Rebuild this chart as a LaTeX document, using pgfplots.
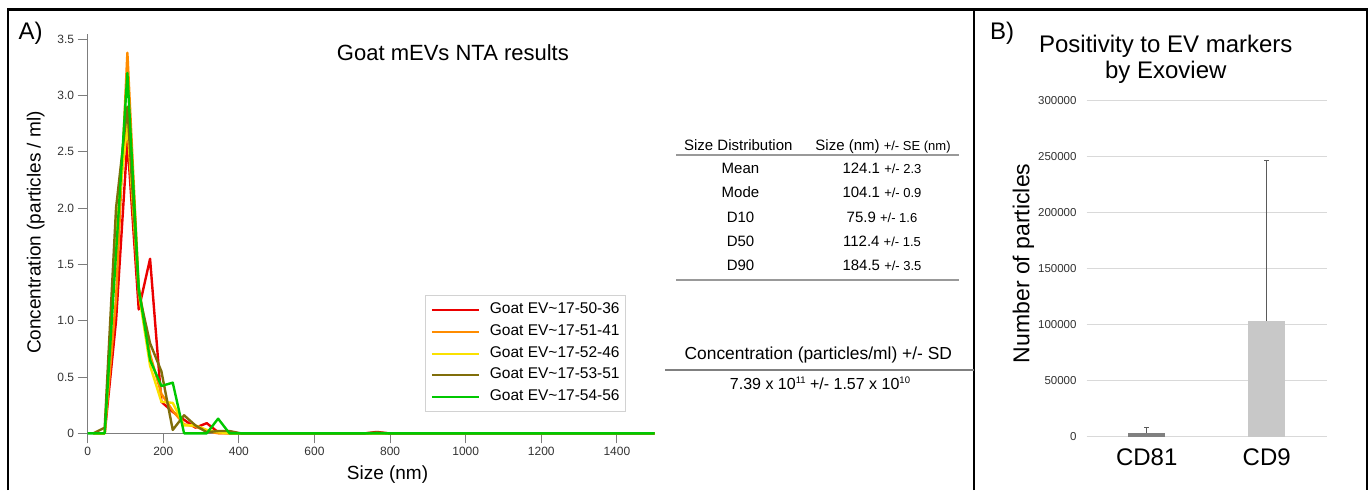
\documentclass[border=0pt]{standalone}
\usepackage{pgfplots}
\pgfplotsset{compat=1.18}
\usepackage{pgfplotstable}
\usepackage{fontspec}
\setmainfont{Liberation Sans}

\definecolor{evred}{RGB}{235,0,0}
\definecolor{evorange}{RGB}{255,140,0}
\definecolor{evyellow}{RGB}{250,225,0}
\definecolor{evolive}{RGB}{128,110,10}
\definecolor{evgreen}{RGB}{0,200,0}
\definecolor{tickgray}{RGB}{125,125,125}
\definecolor{labelgray}{RGB}{50,50,50}
\definecolor{gridgray}{RGB}{217,217,217}
\definecolor{bardark}{RGB}{128,128,128}
\definecolor{barlight}{RGB}{200,200,200}
\definecolor{errgray}{RGB}{90,90,90}

\newcommand{\fs}[1]{\fontsize{#1}{#1}\selectfont}

% NTA size distributions (size in nm, concentration x 10^9 particles/ml)
\pgfplotstableread{
x y
15 0
45 0
75 1.0
105 2.6
135 1.1
165 1.55
195 0.28
225 0.19
255 0.12
285 0.05
315 0.09
345 0.01
375 0
405 0
735 0
765 0.012
795 0
1500 0
}\evA
\pgfplotstableread{
x y
15 0
45 0
75 1.2
105 3.38
135 1.3
165 0.7
195 0.35
225 0.2
255 0.08
285 0.06
315 0.02
345 0
405 0
1500 0
}\evB
\pgfplotstableread{
x y
15 0
45 0
75 1.8
105 2.75
135 1.25
165 0.6
195 0.28
225 0.27
255 0.07
285 0.07
315 0.03
345 0.01
375 0
405 0
1500 0
}\evC
\pgfplotstableread{
x y
15 0
45 0.05
75 2.0
105 2.9
135 1.25
165 0.8
195 0.55
225 0.03
255 0.16
285 0.07
315 0.01
345 0.02
375 0.02
405 0
735 0
765 0.008
795 0
1500 0
}\evD
\pgfplotstableread{
x y
0 0
45 0
75 1.6
105 3.2
135 1.29
165 0.65
195 0.42
225 0.45
255 0
285 0
315 0
345 0.13
375 0
405 0
1500 0
}\evE

\begin{document}
\begin{tikzpicture}
\useasboundingbox (0,0) rectangle (1370pt,490pt);

% ---------------- Panel A: NTA curves ----------------
\begin{axis}[
  at={(87.7pt,56.7pt)}, anchor=south west,
  scale only axis, width=567pt, height=399.7pt,
  xmin=0, xmax=1500, ymin=0, ymax=3.55,
  axis lines=left,
  axis line style={-, draw=tickgray, line width=1pt},
  every outer x axis line/.append style={-},
  every outer y axis line/.append style={-},
  xtick={0,200,400,600,800,1000,1200,1400},
  xticklabels={0,200,400,600,800,1000,1200,1400},
  ytick={0,0.5,1,1.5,2,2.5,3,3.5},
  yticklabels={0,0.5,1.0,1.5,2.0,2.5,3.0,3.5},
  tick align=outside, major tick length=10pt,
  tick style={draw=tickgray, line width=1pt},
  ticklabel style={font=\fs{12}, text=labelgray},
  clip=false,
  every axis x label/.style={at={(axis description cs:0.5288,-0.1150)}, anchor=base, font=\fs{19}},
  every axis y label/.style={at={(axis description cs:-0.0832,0.5024)}, anchor=base, rotate=90, font=\fs{19}},
  every axis title/.style={at={(axis description cs:0.6441,0.9315)}, anchor=base, font=\fs{22}},
  xlabel={Size (nm)},
  ylabel={Concentration (particles / ml)},
  title={Goat mEVs NTA results},
  legend cell align=left,
  legend image code/.code={\draw[#1, line width=2pt] (0pt,0pt) -- (47pt,0pt);},
  legend style={at={(axis description cs:0.5949,0.3460)}, anchor=north west,
    draw=gray!35, line width=0.8pt, font=\fs{15.5},
    inner xsep=5.5pt, inner ysep=7pt, row sep=6.8pt, column sep=10pt,
    nodes={inner sep=0pt, text height=11pt, text depth=4pt}},
  every axis plot/.append style={line width=2.4pt, line join=round},
]
\addplot[evred] table[x=x, y=y] {\evA};
\addlegendentry{Goat EV\textasciitilde 17-50-36}
\addplot[evorange] table[x=x, y=y] {\evB};
\addlegendentry{Goat EV\textasciitilde 17-51-41}
\addplot[evyellow] table[x=x, y=y] {\evC};
\addlegendentry{Goat EV\textasciitilde 17-52-46}
\addplot[evolive] table[x=x, y=y] {\evD};
\addlegendentry{Goat EV\textasciitilde 17-53-51}
\addplot[evgreen] table[x=x, y=y] {\evE};
\addlegendentry{Goat EV\textasciitilde 17-54-56}
\end{axis}

% ---------------- Panel B: Exoview counts ----------------
\begin{axis}[
  at={(1086.7pt,53.3pt)}, anchor=south west,
  scale only axis, width=240pt, height=336pt,
  xmin=-0.5, xmax=1.5, ymin=0, ymax=300000,
  axis line style={draw=none},
  major tick length=0pt,
  ymajorgrids, grid style={draw=gridgray, line width=0.9pt},
  ytick={0,50000,100000,150000,200000,250000,300000},
  yticklabels={0,50000,100000,150000,200000,250000,300000},
  scaled y ticks=false,
  yticklabel style={font=\fs{11.5}, text=labelgray, inner sep=0pt, anchor=east, xshift=-10pt},
  xtick={0,1}, xticklabels={CD81,CD9},
  xticklabel style={font=\fs{24}, inner sep=0pt, anchor=base, yshift=-28.3pt},
  clip=false,
  every axis y label/.style={at={(axis description cs:-0.239,0.516)}, anchor=base, rotate=90, font=\fs{23}},
  every axis title/.style={at={(axis description cs:0.3296,1.144)}, anchor=base, font=\fs{24}},
  ylabel={Number of particles},
  title={Positivity to EV markers},
]
\addplot[ybar, bar width=37pt, bar shift=0pt, fill=bardark, draw=none,
  error bars/.cd, y dir=plus, y explicit,
  error bar style={draw=errgray, line width=0.8pt},
  error mark options={rotate=90, mark size=2.5pt, draw=errgray, line width=0.8pt}]
  coordinates {(0,3500) +- (0,4500)};
\addplot[ybar, bar width=37pt, bar shift=0pt, fill=barlight, draw=none,
  error bars/.cd, y dir=plus, y explicit,
  error bar style={draw=errgray, line width=0.8pt},
  error mark options={rotate=90, mark size=2.5pt, draw=errgray, line width=0.8pt}]
  coordinates {(1,103500) +- (0,143500)};
\node[anchor=base, inner sep=0pt, font=\fs{24}] at (axis description cs:0.3296,1.0646) {by Exoview};
\end{axis}

% ---------------- Frame and panel letters ----------------
\draw[line width=2.3pt] (8.3pt,0pt) -- (8.3pt,480.5pt) -- (1367pt,480.5pt) -- (1367pt,0pt);
\draw[line width=2.3pt] (974pt,0pt) -- (974pt,480.5pt);
\node[anchor=base west, inner sep=0pt, font=\fs{24}] at (18.3pt,450pt) {A)};
\node[anchor=base west, inner sep=0pt, font=\fs{24}] at (990pt,450pt) {B)};

% ---------------- Size statistics table ----------------
\begin{scope}[every node/.style={inner sep=0pt, anchor=base}]
\node[font=\fs{15}] at (738.3pt,339.3pt) {Size Distribution};
\node[font=\fs{15}] at (883pt,339.3pt) {Size (nm) {\fs{13}+/- SE (nm)}};
\node[font=\fs{15}] at (740.5pt,316.7pt) {Mean};
\node[font=\fs{15}] at (882pt,316.7pt) {124.1 {\fs{13}+/- 2.3}};
\node[font=\fs{15}] at (740.5pt,292.3pt) {Mode};
\node[font=\fs{15}] at (882pt,292.3pt) {104.1 {\fs{13}+/- 0.9}};
\node[font=\fs{15}] at (740.5pt,267.9pt) {D10};
\node[font=\fs{15}] at (882pt,267.9pt) {75.9 {\fs{13}+/- 1.6}};
\node[font=\fs{15}] at (740.5pt,243.5pt) {D50};
\node[font=\fs{15}] at (882pt,243.5pt) {112.4 {\fs{13}+/- 1.5}};
\node[font=\fs{15}] at (740.5pt,219.1pt) {D90};
\node[font=\fs{15}] at (882pt,219.1pt) {184.5 {\fs{13}+/- 3.5}};
\node[font=\fs{17.4}] at (818.3pt,130pt) {Concentration (particles/ml) +/- SD};
\node[font=\fs{16}] at (820pt,100.7pt)
  {7.39 x 10\raisebox{5.5pt}{\fs{9.5}11} +/- 1.57 x 10\raisebox{5.5pt}{\fs{9.5}10}};
\end{scope}
\draw[gray!80, line width=1.2pt] (676pt,335pt) -- (959.3pt,335pt);
\draw[gray!80, line width=1.2pt] (676pt,210pt) -- (959.3pt,210pt);
\draw[gray, line width=1.2pt] (665pt,120pt) -- (974pt,120pt);
\end{tikzpicture}
\end{document}
